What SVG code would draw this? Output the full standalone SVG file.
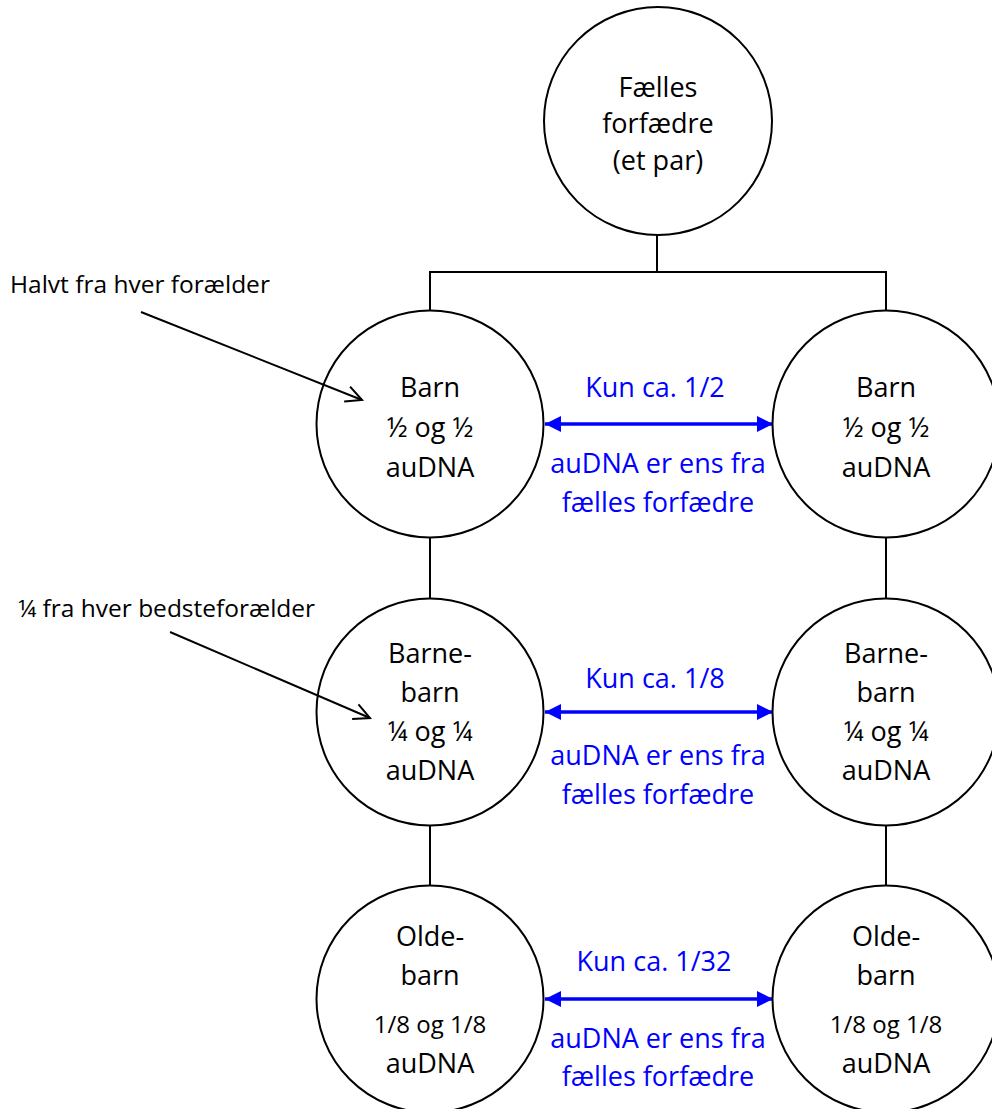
<svg xmlns="http://www.w3.org/2000/svg" width="992" height="1109" viewBox="0 0 992 1109">
  <defs>
    <style>
      .node circle { fill: #fff; stroke: #000; stroke-width: 2; }
      .node text { font-family: "Open Sans", "Liberation Sans", sans-serif; font-size: 27px; fill: #000; text-anchor: middle; }
      .node text.small { font-size: 24px; }
      .link { stroke: #000; stroke-width: 2; fill: none; }
      .share { stroke: #0000ff; stroke-width: 3.5; fill: none; marker-start: url(#blueHeadStart); marker-end: url(#blueHead); }
      .share-label { font-family: "Open Sans", "Liberation Sans", sans-serif; font-size: 27px; fill: #0000ff; text-anchor: middle; }
      .note { font-family: "Open Sans", "Liberation Sans", sans-serif; font-size: 24.5px; fill: #000; }
      .pointer { stroke: #000; stroke-width: 2; fill: none; marker-end: url(#openHead); }
    </style>
    <marker id="blueHead" viewBox="0 0 16 16" refX="16" refY="8" markerWidth="16" markerHeight="16" markerUnits="userSpaceOnUse" orient="auto">
      <path d="M0,0 L16,8 L0,16 Z" fill="#0000ff"/>
    </marker>
    <marker id="blueHeadStart" viewBox="0 0 16 16" refX="0" refY="8" markerWidth="16" markerHeight="16" markerUnits="userSpaceOnUse" orient="auto">
      <path d="M16,0 L0,8 L16,16 Z" fill="#0000ff"/>
    </marker>
    <marker id="openHead" viewBox="0 0 20 20" refX="18" refY="10" markerWidth="20" markerHeight="20" markerUnits="userSpaceOnUse" orient="auto">
      <path d="M2,2 L18,10 L2,18" fill="none" stroke="#000" stroke-width="2"/>
    </marker>
  </defs>

  <rect width="992" height="1109" fill="#fff"/>

  <!-- family tree lines -->
  <g id="connectors">
    <path class="link" d="M657,235 V272"/>
    <path class="link" d="M430,310 V272 H886 V310"/>
    <path class="link" d="M430,537 V598"/>
    <path class="link" d="M886,537 V598"/>
    <path class="link" d="M430,825 V885"/>
    <path class="link" d="M886,825 V885"/>

    <!-- shared DNA arrows between cousins -->
    <line class="share" x1="545" y1="424" x2="773" y2="424"/>
    <line class="share" x1="545" y1="712" x2="773" y2="712"/>
    <line class="share" x1="545" y1="999" x2="773" y2="999"/>
  </g>

  <!-- share labels -->
  <g id="share-labels">
    <text class="share-label" x="655" y="397">Kun ca. 1/2</text>
    <text class="share-label" x="658" y="473">auDNA er ens fra</text>
    <text class="share-label" x="658" y="512">fælles forfædre</text>

    <text class="share-label" x="655" y="688">Kun ca. 1/8</text>
    <text class="share-label" x="658" y="765">auDNA er ens fra</text>
    <text class="share-label" x="658" y="804">fælles forfædre</text>

    <text class="share-label" x="654" y="971">Kun ca. 1/32</text>
    <text class="share-label" x="658" y="1048">auDNA er ens fra</text>
    <text class="share-label" x="658" y="1086">fælles forfædre</text>
  </g>

  <!-- annotations -->
  <g id="notes">
    <text class="note" x="10" y="293">Halvt fra hver forælder</text>
    <text class="note" x="18" y="617">¼ fra hver bedsteforælder</text>
  </g>

  <!-- nodes -->
  <g id="ancestors" class="node">
    <circle cx="658" cy="121" r="114"/>
    <text x="658" y="97">Fælles</text>
    <text x="658" y="133">forfædre</text>
    <text x="658" y="170">(et par)</text>
  </g>

  <g id="child-left" class="node">
    <circle cx="430" cy="424" r="113.5"/>
    <text x="430" y="397">Barn</text>
    <text x="430" y="437">½ og ½</text>
    <text x="430" y="477">auDNA</text>
  </g>

  <g id="child-right" class="node">
    <circle cx="886" cy="424" r="113.5"/>
    <text x="886" y="397">Barn</text>
    <text x="886" y="437">½ og ½</text>
    <text x="886" y="477">auDNA</text>
  </g>

  <g id="grandchild-left" class="node">
    <circle cx="430" cy="712" r="113.5"/>
    <text x="430" y="663">Barne-</text>
    <text x="430" y="702">barn</text>
    <text x="430" y="741">¼ og ¼</text>
    <text x="430" y="780">auDNA</text>
  </g>

  <g id="grandchild-right" class="node">
    <circle cx="886" cy="712" r="113.5"/>
    <text x="886" y="663">Barne-</text>
    <text x="886" y="702">barn</text>
    <text x="886" y="741">¼ og ¼</text>
    <text x="886" y="780">auDNA</text>
  </g>

  <g id="greatgrandchild-left" class="node">
    <circle cx="430" cy="999" r="113.5"/>
    <text x="430" y="946">Olde-</text>
    <text x="430" y="985">barn</text>
    <text class="small" x="430" y="1033">1/8 og 1/8</text>
    <text x="430" y="1073">auDNA</text>
  </g>

  <g id="greatgrandchild-right" class="node">
    <circle cx="886" cy="999" r="113.5"/>
    <text x="886" y="946">Olde-</text>
    <text x="886" y="985">barn</text>
    <text class="small" x="886" y="1033">1/8 og 1/8</text>
    <text x="886" y="1073">auDNA</text>
  </g>

  <!-- annotation pointers, drawn over the circles -->
  <g id="pointers">
    <line class="pointer" x1="141" y1="312" x2="362" y2="400"/>
    <line class="pointer" x1="170" y1="632" x2="370" y2="718"/>
  </g>
</svg>
